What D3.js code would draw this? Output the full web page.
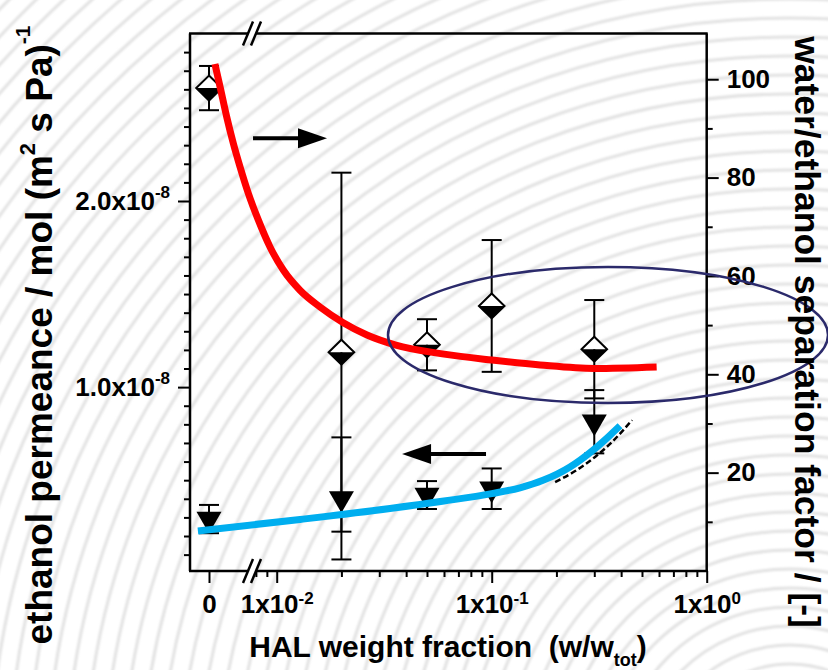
<!DOCTYPE html>
<html>
<head>
<meta charset="utf-8">
<script src="https://cdn.jsdelivr.net/npm/d3@7"></script>
<style>
  body { margin: 0; background: #ffffff; }
  svg { display: block; font-family: "Liberation Sans", Arial, sans-serif; font-weight: bold; }
</style>
</head>
<body>
<svg id="chart" width="828" height="670"></svg>
<script>
// ---- measured data ----
// HAL weight fraction of each membrane (0 = unfilled reference)
const halFraction = [0, 0.02, 0.05, 0.1, 0.3];
// water/ethanol separation factor (right axis) with error
const separationFactor = [98.2, 44.5, 46.0, 53.9, 45.1];
const separationErr = [4.5, 36.5, 5.2, 13.4, 10.0];
// ethanol permeance, mol/(m2 s Pa) (left axis) with error
const permeance = [0.291e-8, 0.402e-8, 0.420e-8, 0.454e-8, 0.814e-8];
const permeanceErr = [0.076e-8, 0.328e-8, 0.075e-8, 0.109e-8, 0.170e-8];

// ---- model curves ----
const separationFitX = [0.00516, 0.00545, 0.00585, 0.00628, 0.00675, 0.00738, 0.00821, 0.00931, 0.01073, 0.01283, 0.0159, 0.0204, 0.0263, 0.0355, 0.06, 0.1, 0.168, 0.3, 0.585];
const separationFitY = [103.1, 98.5, 92.4, 87.0, 82.2, 76.8, 71.4, 65.9, 61.2, 57.1, 53.7, 50.5, 48.0, 46.0, 44.1, 42.9, 41.9, 41.2, 41.5];
const permeanceFitX = [0.0043, 0.01284, 0.03365, 0.06, 0.1, 0.1354, 0.1732, 0.2313, 0.296, 0.3549, 0.3952];
const permeanceFitY = [0.227e-8, 0.289e-8, 0.348e-8, 0.388e-8, 0.428e-8, 0.459e-8, 0.499e-8, 0.571e-8, 0.661e-8, 0.741e-8, 0.792e-8];
const permeanceAltFitX = [0.1972, 0.2444, 0.3025, 0.3626, 0.4494];
const permeanceAltFitY = [0.490e-8, 0.549e-8, 0.625e-8, 0.705e-8, 0.823e-8];

// ---- ticks ----
const leftMajorTicks = [1e-8, 2e-8];
const leftMajorLabels = ["1.0x10", "2.0x10"];
const leftMajorExp = ["-8", "-8"];
const rightMajorTicks = [20, 40, 60, 80, 100];
const rightMinorTicks = [10, 30, 50, 70, 90];
const xMajorTicks = [0.01, 0.1, 1];
const xMajorExp = ["-2", "-1", "0"];
const zeroCategory = ["0"];

// ---- layout ----
const W = 828, H = 670;
const L = 190, R = 706.7, T = 33.5, B = 571;
const breakX = 252;
const tickFont = 26;

const svg = d3.select("#chart");
const defs = svg.append("defs");
defs.append("filter").attr("id", "soft")
  .append("feGaussianBlur").attr("stdDeviation", 0.9);

// decorative ripple background
svg.append("rect").attr("width", W).attr("height", H).attr("fill", "#ffffff");
svg.append("g").attr("filter", "url(#soft)")
  .selectAll("circle").data(d3.range(40, 1400, 19)).join("circle")
  .attr("cx", 790).attr("cy", 780).attr("r", d => d)
  .attr("fill", "none").attr("stroke", "#e2e2e2").attr("stroke-width", 3);

// ---- scales ----
const xLog = d3.scaleLog().domain([0.01, 1]).range([276.7, R]);
const xZero = d3.scalePoint().domain(zeroCategory).range([L, 228]);
const xPos = v => v === 0 ? xZero("0") : xLog(v);
const yLeft = d3.scaleLinear().domain([0.012e-8, 2.9e-8]).range([B, T]);
const yRight = d3.scaleLinear().domain([0, 109.3]).range([B, T]);

const black = "#000000";

function styleAxis(g) {
  g.select(".domain").remove();
  g.selectAll(".tick line").attr("stroke", black).attr("stroke-width", 2);
  g.selectAll(".tick text").attr("fill", black).attr("font-size", tickFont).attr("font-weight", "bold")
    .attr("font-family", "'Liberation Sans', Arial, sans-serif");
}
function addSup(textSel, base, exp, supDy) {
  textSel.text(null);
  textSel.append("tspan").text(base);
  textSel.append("tspan").attr("font-size", 17).attr("dy", supDy).text(exp);
}

// left axis: minor ticks every 0.1x10^-8, labelled majors
const leftMinor = d3.range(1, 29).filter(i => i % 10 !== 0).map(i => i * 1e-9);
svg.append("g").attr("transform", `translate(${L},0)`)
  .call(d3.axisLeft(yLeft).tickValues(leftMinor).tickSize(6).tickSizeOuter(0).tickFormat(""))
  .call(styleAxis);
svg.append("g").attr("transform", `translate(${L},0)`)
  .call(d3.axisLeft(yLeft).tickValues(leftMajorTicks).tickSize(12).tickSizeOuter(0).tickPadding(8))
  .call(styleAxis)
  .call(g => g.selectAll(".tick text").each(function(d, i) {
    addSup(d3.select(this), leftMajorLabels[i], leftMajorExp[i], -12);
  }));

// right axis
svg.append("g").attr("transform", `translate(${R},0)`)
  .call(d3.axisRight(yRight).tickValues(rightMinorTicks).tickSize(6).tickSizeOuter(0).tickFormat(""))
  .call(styleAxis);
svg.append("g").attr("transform", `translate(${R},0)`)
  .call(d3.axisRight(yRight).tickValues(rightMajorTicks).tickSize(12).tickSizeOuter(0).tickPadding(8).tickFormat(d3.format("d")))
  .call(styleAxis);

// bottom axis: zero category, then log decades after the break
svg.append("g").attr("transform", `translate(0,${B})`)
  .call(d3.axisBottom(xZero).tickSize(12).tickSizeOuter(0).tickPadding(12))
  .call(styleAxis);
const xMinor = [0.008, 0.009]
  .concat(d3.range(2, 10).map(k => k * 0.01))
  .concat(d3.range(2, 10).map(k => k * 0.1));
svg.append("g").attr("transform", `translate(0,${B})`)
  .call(d3.axisBottom(xLog).tickValues(xMinor).tickSize(6).tickSizeOuter(0).tickFormat(""))
  .call(styleAxis);
svg.append("g").attr("transform", `translate(0,${B})`)
  .call(d3.axisBottom(xLog).tickValues(xMajorTicks).tickSize(12).tickSizeOuter(0).tickPadding(12))
  .call(styleAxis)
  .call(g => g.selectAll(".tick text").each(function(d, i) {
    addSup(d3.select(this), "1x10", xMajorExp[i], -9);
  }));

// ---- frame with axis breaks ----
const frame = svg.append("g").attr("stroke", black).attr("stroke-width", 2.5).attr("fill", "none");
frame.append("line").attr("x1", L).attr("y1", T).attr("x2", L).attr("y2", B);
frame.append("line").attr("x1", R).attr("y1", T).attr("x2", R).attr("y2", B);
[T, B].forEach(y => {
  frame.append("line").attr("x1", L - 1).attr("y1", y).attr("x2", breakX - 4).attr("y2", y);
  frame.append("line").attr("x1", breakX + 4).attr("y1", y).attr("x2", R + 1).attr("y2", y);
  [-4, 4].forEach(o => {
    frame.append("line")
      .attr("x1", breakX + o - 5).attr("y1", y + 12)
      .attr("x2", breakX + o + 5).attr("y2", y - 12);
  });
});

// ---- error bars ----
const points = halFraction.map((f, i) => ({
  f, s: separationFactor[i], se: separationErr[i], p: permeance[i], pe: permeanceErr[i]
}));
const errG = svg.append("g").attr("stroke", black).attr("stroke-width", 2);
function errorBar(x, y0, y1) {
  errG.append("line").attr("x1", x).attr("x2", x).attr("y1", y0).attr("y2", y1);
  [y0, y1].forEach(y => errG.append("line").attr("x1", x - 10).attr("x2", x + 10).attr("y1", y).attr("y2", y));
}
points.forEach(d => {
  errorBar(xPos(d.f), yRight(d.s + d.se), yRight(d.s - d.se));
  errorBar(xPos(d.f), yLeft(d.p + d.pe), yLeft(d.p - d.pe));
});

// ---- markers ----
// separation factor: half-filled diamonds
const dw = 12.8, dh = 12.5;
const diam = svg.append("g").selectAll("g").data(points).join("g")
  .attr("transform", d => `translate(${xPos(d.f)},${yRight(d.s)})`);
diam.append("path").attr("d", `M${-dw},0L0,${-dh}L${dw},0Z`).attr("fill", "#ffffff");
diam.append("path").attr("d", `M${-dw},0L0,${dh}L${dw},0Z`).attr("fill", black);
diam.append("path").attr("d", `M0,${-dh}L${dw},0L0,${dh}L${-dw},0Z`)
  .attr("fill", "none").attr("stroke", black).attr("stroke-width", 2);

// permeance: filled down triangles
svg.append("g").selectAll("path").data(points).join("path")
  .attr("transform", d => `translate(${xPos(d.f)},${yLeft(d.p)})`)
  .attr("d", "M-12.5,-7.2L12.5,-7.2L0,14.4Z")
  .attr("fill", black);

// ---- model curves ----
const lineLeft = d3.line().x(d => xLog(d[0])).y(d => yLeft(d[1])).curve(d3.curveMonotoneX);
const lineRight = d3.line().x(d => xLog(d[0])).y(d => yRight(d[1])).curve(d3.curveMonotoneX);

svg.append("path").datum(d3.zip(permeanceAltFitX, permeanceAltFitY))
  .attr("d", lineLeft).attr("fill", "none").attr("stroke", black)
  .attr("stroke-width", 2.5).attr("stroke-dasharray", "6,3");
svg.append("path").datum(d3.zip(permeanceFitX, permeanceFitY))
  .attr("d", lineLeft).attr("fill", "none").attr("stroke", "#00aeef").attr("stroke-width", 7);
svg.append("path").datum(d3.zip(separationFitX, separationFitY))
  .attr("d", lineRight).attr("fill", "none").attr("stroke", "#ff0000").attr("stroke-width", 7);

// ---- annotations: axis arrows and highlight ellipse ----
function arrow(xFrom, xTo, y) {
  const dir = Math.sign(xTo - xFrom);
  const g = svg.append("g").attr("fill", black).attr("stroke", black);
  g.append("line").attr("x1", xFrom).attr("x2", xTo - dir * 26).attr("y1", y).attr("y2", y).attr("stroke-width", 4);
  g.append("path").attr("stroke", "none")
    .attr("d", `M${xTo},${y}L${xTo - dir * 29},${y - 10}L${xTo - dir * 29},${y + 10}Z`);
}
arrow(xLog(0.00776), xLog(0.01714), yRight(88.0));
arrow(xLog(0.0941), xLog(0.0383), yLeft(0.641e-8));

svg.append("ellipse")
  .attr("cx", xLog(0.3475)).attr("cy", yRight(48.0))
  .attr("rx", 220).attr("ry", 68)
  .attr("fill", "none").attr("stroke", "#2b2a6b").attr("stroke-width", 2.5);

// ---- axis titles ----
const xTitle = svg.append("text").attr("x", 448).attr("y", 657)
  .attr("text-anchor", "middle").attr("font-size", 30).attr("fill", black)
  .style("white-space", "pre");
xTitle.append("tspan").text("HAL weight fraction  (w/w");
xTitle.append("tspan").attr("font-size", 18).attr("dy", 9).text("tot");
xTitle.append("tspan").attr("dy", -9).text(")");

const yTitle = svg.append("text").attr("transform", "translate(52,335) rotate(-90)")
  .attr("text-anchor", "middle").attr("font-size", 37).attr("fill", black);
yTitle.append("tspan").text("ethanol permeance / mol (m");
yTitle.append("tspan").attr("font-size", 22).attr("dy", -17).text("2");
yTitle.append("tspan").attr("dy", 17).text(" s Pa)");
yTitle.append("tspan").attr("font-size", 21).attr("dy", -22).text("-1");

svg.append("text").attr("transform", "translate(795,332) rotate(90)")
  .attr("text-anchor", "middle").attr("font-size", 35.5).attr("fill", black)
  .text("water/ethanol separation factor / [-]");
</script>
</body>
</html>
